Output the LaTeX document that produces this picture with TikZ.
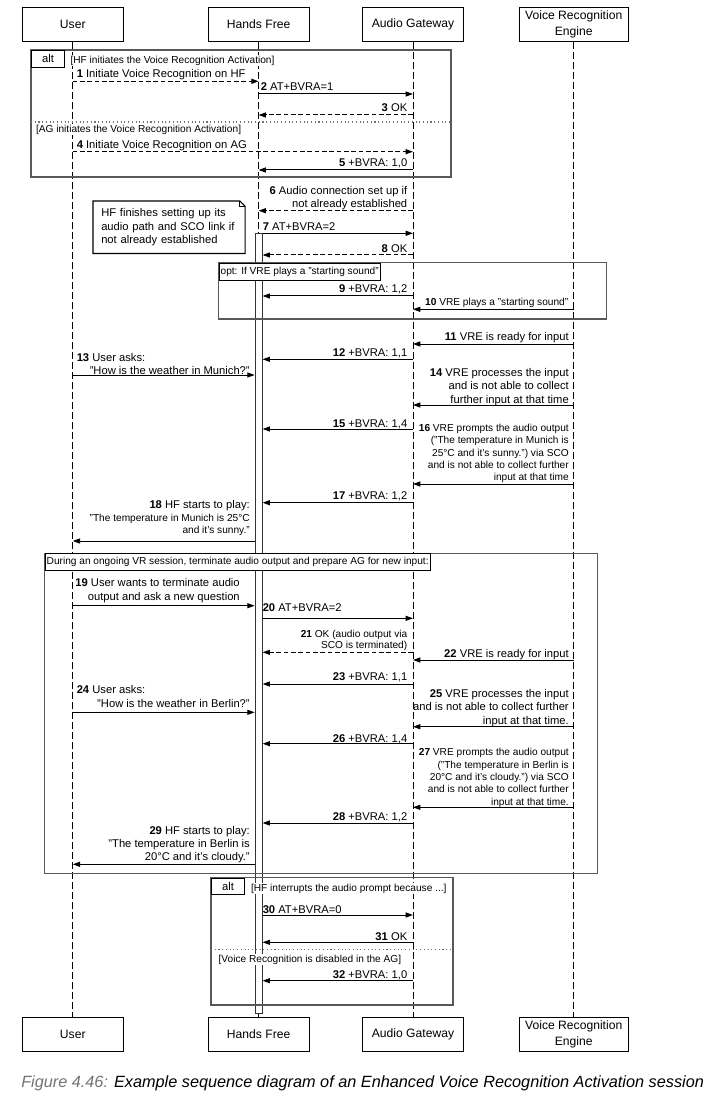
\documentclass[tikz,border=0pt]{standalone}
\usepackage{fontspec}
\setmainfont{Liberation Sans}
\usetikzlibrary{arrows.meta, positioning}

\begin{document}
\begin{tikzpicture}[
    x=0.75pt, y=-0.75pt,
    actor/.style={rectangle, draw, line width=0.8pt, align=center, inner ysep=1pt,
      minimum height=25.9pt, minimum width=75.75pt, font=\fontsize{9.1}{11.6}\selectfont},
    lifeline/.style={line width=0.6pt, dash pattern=on 5pt off 2.5pt},
    bar/.style={rectangle, draw=black!80, line width=0.6pt, fill=white, inner sep=0pt,
      minimum width=5.4pt, minimum height=585pt},
    frame/.style={draw=black!65, line width=0.9pt},
    divider/.style={draw=black!55, line width=0.8pt, dotted},
    tab/.style={rectangle, draw, line width=0.8pt, fill=white, inner xsep=1.2pt, inner ysep=0pt,
      minimum height=12.8pt, font=\fontsize{7.6}{9.2}\selectfont},
    guard/.style={fill=white, inner sep=0.6pt, font=\fontsize{7.6}{9.2}\selectfont},
    note/.style={inner xsep=6pt, text width=101.7pt, align=left, minimum width=113.7pt,
      minimum height=39pt, font=\fontsize{8.4}{10.1}\selectfont},
    msg/.style={-{Triangle[length=5.5pt, width=3.8pt]}, line width=0.75pt},
    msgd/.style={msg, dash pattern=on 3.5pt off 2pt},
    lbl/.style={inner sep=0pt, align=right, font=\fontsize{8.4}{10}\selectfont},
    lbls/.style={lbl, font=\fontsize{7.6}{9.3}\selectfont}
  ]

  \useasboundingbox (0,0) rectangle (706,1105);

  % participants
  \node[actor] (user) at (72.75,24.5) {User};
  \node[actor, right=62.85pt of user] (hf) {Hands Free};
  \node[actor, right=39.2pt of hf] (ag) {Audio Gateway};
  \node[actor, right=40.9pt of ag, minimum width=82pt] (vre) {Voice Recognition\\Engine};
  \node[actor, below=730.7pt of user] (userB) {User};
  \node[actor, below=730.7pt of hf] (hfB) {Hands Free};
  \node[actor, below=730.7pt of ag] (agB) {Audio Gateway};
  \node[actor, below=730.7pt of vre, minimum width=82pt] (vreB) {Voice Recognition\\Engine};

  % message rows
  \foreach \n/\y in {1/81.3, 2/94, 3/115, 4/151.7, 5/170, 6/210.7, 7/233.3, 8/255,
      9/296, 10/309.3, 11/344, 12/359.3, 13/375, 14/405, 15/429, 16/484, 17/502.7,
      18/541, 19/605.7, 20/618.3, 21/652.3, 22/660, 23/684, 24/712.3, 25/726.7,
      26/743.7, 27/807.3, 28/823, 29/864.3, 30/915, 31/942.3, 32/980.7}
    \coordinate (r\n) at (0,\y);

  % lifelines
  \draw[lifeline] (user) -- (userB);
  \draw[lifeline] (hf) -- (hfB);
  \draw[lifeline] (ag) -- (agB);
  \draw[lifeline] (vre) -- (vreB);
  \node[bar, anchor=north] (bar) at (hf |- r7) {};

  % fragments
  \draw[frame] (31,50) rectangle (451,177);
  \draw[divider] (31,122) -- (451,122);
  \draw[frame] (218.5,262.7) rectangle (606.8,319);
  \draw[frame] (44.6,553.3) rectangle (597.3,873.3);
  \draw[frame] (211,877.7) rectangle (453,1005);
  \draw[divider] (211,949.3) -- (453,949.3);

  \node[tab, anchor=north west, minimum width=24.75pt, minimum height=12.5pt,
    font=\fontsize{8.4}{10}\selectfont] (alt1) at (31,50) {alt};
  \node[guard, anchor=base west] (g1) at (69.5,63.5) {[HF initiates the Voice Recognition Activation]};
  \node[guard, anchor=base west] (g2) at (35,132.5) {[AG initiates the Voice Recognition Activation]};
  \node[tab, anchor=north west] (opt) at (218.5,262.7) {opt: If VRE plays a "starting sound"};
  \node[tab, anchor=north west] (vrs) at (44.6,553.3)
    {During an ongoing VR session, terminate audio output and prepare AG for new input:};
  \node[tab, anchor=north west, minimum width=24.75pt, minimum height=12.5pt,
    font=\fontsize{8.4}{10}\selectfont] (alt2) at (211,877.7) {alt};
  \node[guard, anchor=base west] (g3) at (250,891.2) {[HF interrupts the audio prompt because ...]};
  \node[guard, anchor=base west] (g4) at (217.6,962.5) {[Voice Recognition is disabled in the AG]};

  % note
  \node[note, anchor=north west] (hfnote) at (93,201)
    {HF finishes setting up its\\audio path and SCO link if\\not already established};
  \draw[line width=0.8pt] (hfnote.north west) -- ([xshift=-4pt]hfnote.north east)
    -- ([yshift=-4pt]hfnote.north east) -- (hfnote.south east) -- (hfnote.south west) -- cycle;
  \draw[line width=0.6pt] ([xshift=-4pt]hfnote.north east) |- ([yshift=-4pt]hfnote.north east);

  % messages (multi-line labels sit on their last line)
  \draw[msgd] (user |- r1) -- (hf |- r1);
  \node[lbl, anchor=base west] (l1) at (76.5,78) {\textbf{1} Initiate Voice Recognition on HF};
  \draw[msg] (hf |- r2) -- (ag |- r2);
  \node[lbl, anchor=base west] (l2) at (260.5,91) {\textbf{2} AT+BVRA=1};
  \draw[msgd] (ag |- r3) -- (hf |- r3);
  \node[lbl, anchor=base east] (l3) at (407.5,112) {\textbf{3} OK};
  \draw[msgd] (user |- r4) -- (ag |- r4);
  \node[lbl, anchor=base west] (l4) at (76.5,149) {\textbf{4} Initiate Voice Recognition on AG};
  \draw[msg] (ag |- r5) -- (hf |- r5);
  \node[lbl, anchor=base east] (l5) at (407.5,167) {\textbf{5} +BVRA: 1,0};
  \draw[msgd] (ag |- r6) -- (hf |- r6);
  \node[lbl, anchor=base east] (l6) at (407.5,208) {\textbf{6} Audio connection set up if\\not already established};
  \draw[msg] (bar.east |- r7) -- (ag |- r7);
  \node[lbl, anchor=base west] (l7) at (262.5,231) {\textbf{7} AT+BVRA=2};
  \draw[msgd] (ag |- r8) -- (bar.east |- r8);
  \node[lbl, anchor=base east] (l8) at (407.5,252.7) {\textbf{8} OK};
  \draw[msg] (ag |- r9) -- (bar.east |- r9);
  \node[lbl, anchor=base east] (l9) at (407.5,293) {\textbf{9} +BVRA: 1,2};
  \draw[msg] (vre |- r10) -- (ag |- r10);
  \node[lbls, anchor=base east] (l10) at (568.5,305.2) {\textbf{10} VRE plays a "starting sound"};
  \draw[msg] (vre |- r11) -- (ag |- r11);
  \node[lbl, anchor=base east] (l11) at (569,340.7) {\textbf{11} VRE is ready for input};
  \draw[msg] (ag |- r12) -- (bar.east |- r12);
  \node[lbl, anchor=base east] (l12) at (407.5,356) {\textbf{12} +BVRA: 1,1};
  \draw[msg] (user |- r13) -- (bar.west |- r13);
  \node[lbl, anchor=base west] (l13) at (76.5,361.3) {\textbf{13} User asks:};
  \node[lbl, anchor=base east] (l13b) at (250,374) {"How is the weather in Munich?"};
  \draw[msg] (vre |- r14) -- (ag |- r14);
  \node[lbl, anchor=base east] (l14) at (569,403.3) {\textbf{14} VRE processes the input\\and is not able to collect\\further input at that time};
  \draw[msg] (ag |- r15) -- (bar.east |- r15);
  \node[lbl, anchor=base east] (l15) at (407.5,427.3) {\textbf{15} +BVRA: 1,4};
  \draw[msg] (vre |- r16) -- (ag |- r16);
  \node[lbls, anchor=base east] (l16) at (569,480.8) {\textbf{16} VRE prompts the audio output\\("The temperature in Munich is\\25°C and it's sunny.") via SCO\\and is not able to collect further\\input at that time};
  \draw[msg] (ag |- r17) -- (bar.east |- r17);
  \node[lbl, anchor=base east] (l17) at (407.5,499.7) {\textbf{17} +BVRA: 1,2};
  \draw[msg] (bar.west |- r18) -- (user |- r18);
  \node[lbl, anchor=base east] (l18) at (250,508) {\textbf{18} HF starts to play:};
  \node[lbls, anchor=base east] (l18b) at (250,533.5) {"The temperature in Munich is 25°C\\and it's sunny."};
  \draw[msg] (user |- r19) -- (bar.west |- r19);
  \node[lbl, anchor=base east, font=\fontsize{8.4}{10.3}\selectfont] (l19) at (240,600) {\textbf{19} User wants to terminate audio\\output and ask a new question};
  \draw[msg] (bar.east |- r20) -- (ag |- r20);
  \node[lbl, anchor=base west] (l20) at (262.5,611.3) {\textbf{20} AT+BVRA=2};
  \draw[msgd] (ag |- r21) -- (bar.east |- r21);
  \node[lbls, anchor=base east, font=\fontsize{7.6}{8.6}\selectfont] (l21) at (407.5,648.8) {\textbf{21} OK (audio output via\\SCO is terminated)};
  \draw[msg] (vre |- r22) -- (ag |- r22);
  \node[lbl, anchor=base east] (l22) at (569,657.3) {\textbf{22} VRE is ready for input};
  \draw[msg] (ag |- r23) -- (bar.east |- r23);
  \node[lbl, anchor=base east] (l23) at (407.5,680.7) {\textbf{23} +BVRA: 1,1};
  \draw[msg] (user |- r24) -- (bar.west |- r24);
  \node[lbl, anchor=base west] (l24) at (76.5,693.3) {\textbf{24} User asks:};
  \node[lbl, anchor=base east] (l24b) at (250,707.3) {"How is the weather in Berlin?"};
  \draw[msg] (vre |- r25) -- (ag |- r25);
  \node[lbl, anchor=base east] (l25) at (569,724) {\textbf{25} VRE processes the input\\and is not able to collect further\\input at that time.};
  \draw[msg] (ag |- r26) -- (bar.east |- r26);
  \node[lbl, anchor=base east] (l26) at (407.5,742.3) {\textbf{26} +BVRA: 1,4};
  \draw[msg] (vre |- r27) -- (ag |- r27);
  \node[lbls, anchor=base east] (l27) at (569,805.2) {\textbf{27} VRE prompts the audio output\\("The temperature in Berlin is\\20°C and it's cloudy.") via SCO\\and is not able to collect further\\input at that time.};
  \draw[msg] (ag |- r28) -- (bar.east |- r28);
  \node[lbl, anchor=base east] (l28) at (407.5,820.7) {\textbf{28} +BVRA: 1,2};
  \draw[msg] (bar.west |- r29) -- (user |- r29);
  \node[lbl, anchor=base east, font=\fontsize{8.4}{9.75}\selectfont] (l29) at (250,860.7) {\textbf{29} HF starts to play:\\"The temperature in Berlin is\\20°C and it's cloudy."};
  \draw[msg] (bar.east |- r30) -- (ag |- r30);
  \node[lbl, anchor=base west] (l30) at (262.5,913.3) {\textbf{30} AT+BVRA=0};
  \draw[msg] (ag |- r31) -- (bar.east |- r31);
  \node[lbl, anchor=base east] (l31) at (407.5,940.3) {\textbf{31} OK};
  \draw[msg] (ag |- r32) -- (bar.east |- r32);
  \node[lbl, anchor=base east] (l32) at (407.5,978.3) {\textbf{32} +BVRA: 1,0};

  % caption
  \node[anchor=base west, inner sep=0pt, font=\fontsize{12.2}{14}\selectfont\itshape] (caption) at (21,1087.5)
    {\textcolor{black!55}{Figure 4.46:} Example sequence diagram of an Enhanced Voice Recognition Activation session};
\end{tikzpicture}
\end{document}
